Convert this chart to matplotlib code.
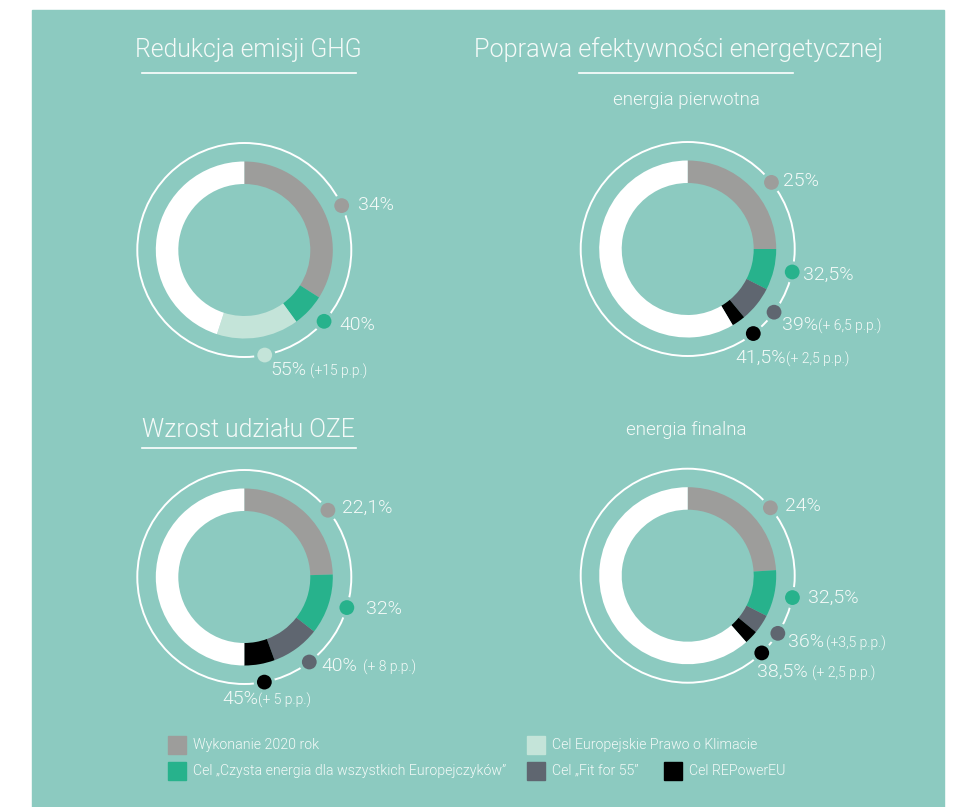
import matplotlib
matplotlib.use("Agg")
import matplotlib.pyplot as plt
from matplotlib.patches import Rectangle, Circle
import numpy as np

W, H = 954, 807
BG = "#8ccac0"
TXT = "#f4faf8"
FW = 300
plt.rcParams["font.family"] = ["Roboto", "DejaVu Sans"]

GRAY, GREEN, LIGHT, DARK, BLACK = "#9d9d9b", "#27b28c", "#c4e4d9", "#5f6670", "#000000"

# --- data ---
ghg_values = [34, 40, 55]
ghg_labels = ["34%", "40%", "55%"]
ghg_notes = ["", "", "(+15 p.p.)"]

primary_values = [25, 32.5, 39, 41.5]
primary_labels = ["25%", "32,5%", "39%", "41,5%"]
primary_notes = ["", "", "(+ 6,5 p.p.)", "(+ 2,5 p.p.)"]

oze_values = [22.1, 32, 40, 45]
oze_labels = ["22,1%", "32%", "40%", "45%"]
oze_notes = ["", "", "(+ 8 p.p.)", "(+ 5 p.p.)"]

final_values = [24, 32.5, 36, 38.5]
final_labels = ["24%", "32,5%", "36%", "38,5%"]
final_notes = ["", "", "(+3,5 p.p.)", "(+ 2,5 p.p.)"]

legend_labels = ["Wykonanie 2020 rok", "Cel Europejskie Prawo o Klimacie",
                 "Cel \u201eCzysta energia dla wszystkich Europejczyk\u00f3w\u201d",
                 "Cel \u201eFit for 55\u201d", "Cel REPowerEU"]

fig = plt.figure(figsize=(W / 100, H / 100), dpi=100)
ax = fig.add_axes([0, 0, 1, 1])
ax.add_patch(Rectangle((32, 10), 912, 800, color=BG, zorder=0))


def donut(center, values, colors, full, dot_angles, label_xy, labels, notes, note_dx):
    cx, cy = center
    sizes = np.diff([0] + values).tolist() + [full - values[-1]]
    # y axis is inverted: start at -90 and go "counterclock" to read clockwise from the top
    ax.pie(sizes, colors=colors + ["white"], radius=88.5, center=(cx, cy),
           startangle=-90, counterclock=True, frame=True,
           wedgeprops=dict(width=22.5, linewidth=0))
    ax.add_patch(Circle((cx, cy), 107, fill=False, ec="white", lw=1.4, zorder=3))
    for ang, col, (lx, ly), lab, note, ndx in zip(dot_angles, colors, label_xy, labels, notes, note_dx):
        a = np.radians(ang)
        ax.add_patch(Circle((cx + 107 * np.sin(a), cy - 107 * np.cos(a)), 9,
                            fc=col, ec=BG, lw=2.3, zorder=4))
        ax.text(lx, ly, lab, color=TXT, fontsize=14, fontweight=FW, va="center", ha="left")
        if note:
            ax.text(lx + ndx, ly + 1.5, note, color=TXT, fontsize=10, fontweight=FW,
                    va="center", ha="left")


donut((244.3, 250), ghg_values, [GRAY, GREEN, LIGHT], 100,
      [65.5, 131.8, 169], [(358, 205), (339, 325), (270, 370)],
      ghg_labels, ghg_notes, [0, 0, 40])
donut((687.7, 249), primary_values, [GRAY, GREEN, DARK, BLACK], 100,
      [51.5, 102.4, 126.2, 142.2], [(783, 181), (803, 275), (782, 325), (735, 358)],
      primary_labels, primary_notes, [0, 0, 36, 51])
# the OZE ring is drawn on a 90% full scale in the original
donut((244.3, 577), oze_values, [GRAY, GREEN, DARK, BLACK], 90,
      [51.4, 106.6, 142.6, 169.2], [(342, 508), (366, 609), (321, 666), (222, 699)],
      oze_labels, oze_notes, [0, 0, 42, 36])
donut((687.7, 575.7), final_values, [GRAY, GREEN, DARK, BLACK], 100,
      [50.6, 101.8, 122.6, 136.2], [(785, 506), (808, 598), (788, 642), (757, 672)],
      final_labels, final_notes, [0, 0, 38, 55])

# titles
ax.text(248.3, 57.3, "Redukcja emisji GHG", color=TXT, fontsize=17.8, fontweight=FW,
        ha="center", va="baseline")
ax.text(678.8, 56.7, "Poprawa efektywności energetycznej", color=TXT, fontsize=18.2,
        fontweight=FW, ha="center", va="baseline")
ax.text(248.7, 436.7, "Wzrost udziału OZE", color=TXT, fontsize=17.8, fontweight=FW,
        ha="center", va="baseline")
ax.text(686.7, 105, "energia pierwotna", color=TXT, fontsize=13.5, fontweight=FW,
        ha="center", va="baseline")
ax.text(686, 435, "energia finalna", color=TXT, fontsize=13.5, fontweight=FW,
        ha="center", va="baseline")
for x0, x1, y in [(141.7, 356, 73.3), (579.3, 792.7, 73.3), (142.3, 356, 448.3)]:
    ax.plot([x0, x1], [y, y], color="white", lw=1.2)

# legend
leg = [(168, 736, GRAY, 0), (527, 736, LIGHT, 1), (168, 762, GREEN, 2),
       (527, 762, DARK, 3), (664, 762, BLACK, 4)]
for x, y, col, i in leg:
    ax.add_patch(Rectangle((x, y), 18, 18, color=col, zorder=2))
    ax.text(x + 25, y + 9, legend_labels[i], color=TXT, fontsize=10.2, fontweight=FW,
            va="center", ha="left")

ax.set_xlim(0, W)
ax.set_ylim(H, 0)
ax.set_aspect("auto")
ax.axis("off")
fig.savefig("out.png", dpi=100, facecolor="white")
